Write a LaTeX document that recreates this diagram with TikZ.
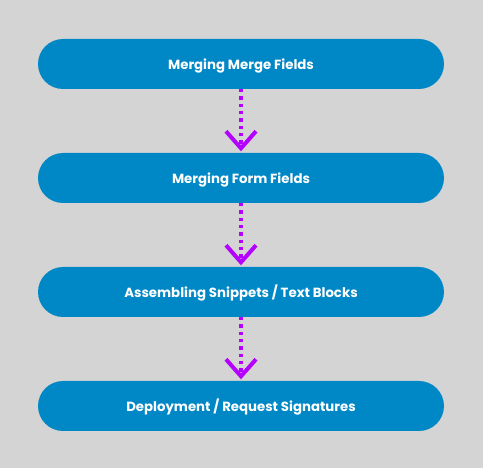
\documentclass[tikz,border=0pt]{standalone}
\usepackage{fontspec}
\setmainfont{Poppins}
\usetikzlibrary{arrows.meta}
\definecolor{bg}{HTML}{D4D4D4}
\definecolor{boxblue}{HTML}{0088C6}
\definecolor{arrowpurple}{HTML}{B300FF}
\tikzset{
  stepbox/.style={fill=boxblue, rounded corners=25pt, minimum width=406pt, minimum height=50pt, inner sep=0pt, text=white, text height=12pt, text depth=1pt, font=\bfseries\fontsize{13.3pt}{15pt}\selectfont},
  flowarrow/.style={draw=arrowpurple, line width=4pt, dash pattern=on 3.3pt off 4pt, -{Straight Barb[length=17pt, width=30pt, line width=4pt]}, shorten >=1.5pt}
}
\begin{document}
\begin{tikzpicture}[x=1pt,y=1pt]
\fill[bg] (0,0) rectangle (483,-468);
\useasboundingbox (0,0) rectangle (483,-468);
\node[stepbox] (b1) at (241,-64) {Merging Merge Fields};
\node[stepbox] (b2) at (241,-178) {Merging Form Fields};
\node[stepbox] (b3) at (241,-292) {Assembling Snippets / Text Blocks};
\node[stepbox] (b4) at (241,-406) {Deployment / Request Signatures};
\draw[flowarrow] (b1.south) -- (b2.north);
\draw[flowarrow] (b2.south) -- (b3.north);
\draw[flowarrow] (b3.south) -- (b4.north);
\end{tikzpicture}
\end{document}
